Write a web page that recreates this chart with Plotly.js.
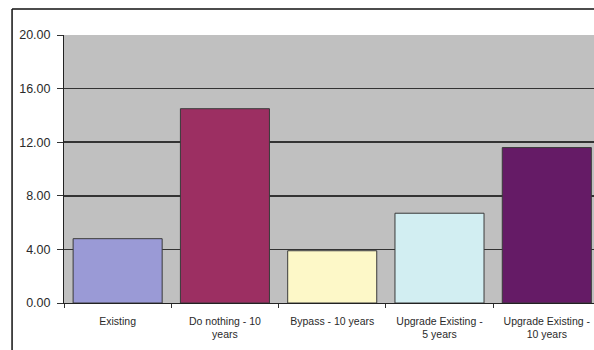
<!DOCTYPE html>
<html>
<head>
<meta charset="utf-8">
<script src="https://cdn.plot.ly/plotly-3.0.1.min.js"></script>
<style>
html,body{margin:0;padding:0;background:#fff;}
#chart{width:594px;height:350px;}
</style>
</head>
<body>
<div id="chart"></div>
<script>
const categories = ["Existing", "Do nothing - 10<br>years", "Bypass - 10 years", "Upgrade Existing -<br>5 years", "Upgrade Existing -<br>10 years"];
const values = [4.8, 14.5, 3.9, 6.7, 11.6];
const barColors = ["#9a9ad6", "#9c2f62", "#fdf8c8", "#d2eef2", "#651b66"];
const yTicks = [0, 4, 8, 12, 16, 20];

const trace = {
  type: "bar",
  x: categories,
  y: values,
  marker: {color: barColors, line: {color: "#3a3a3a", width: 1}},
  hoverinfo: "none"
};

const layout = {
  width: 594,
  height: 350,
  margin: {l: 64, r: 0, t: 35, b: 47, pad: 0},
  paper_bgcolor: "#ffffff",
  plot_bgcolor: "#c0c0c0",
  bargap: 0.17,
  showlegend: false,
  font: {family: "Arial, Liberation Sans, sans-serif", color: "#222"},
  xaxis: {
    type: "category",
    range: [-0.5, 4.44],
    tickson: "boundaries",
    ticks: "outside",
    ticklen: 4,
    tickcolor: "#333",
    ticklabelstandoff: 8,
    showline: true,
    linecolor: "#222",
    linewidth: 1,
    showgrid: false,
    tickfont: {size: 10.5, color: "#2a2a2a"},
    tickangle: 0,
    fixedrange: true
  },
  yaxis: {
    range: [0, 20],
    tickvals: yTicks,
    tickformat: ".2f",
    ticks: "outside",
    ticklen: 6,
    tickcolor: "#333",
    ticklabelstandoff: 4,
    showline: true,
    linecolor: "#222",
    linewidth: 1,
    showgrid: true,
    gridcolor: "#333",
    gridwidth: 1.5,
    zeroline: false,
    tickfont: {size: 12.5, color: "#2a2a2a"},
    fixedrange: true
  },
  shapes: [
    {type: "line", xref: "paper", yref: "paper", x0: -0.098, x1: -0.098, y0: -0.3, y1: 1.097, line: {color: "#111", width: 1.5}},
    {type: "line", xref: "paper", yref: "paper", x0: -0.098, x1: 1.05, y0: 1.097, y1: 1.097, line: {color: "#111", width: 1.5}}
  ]
};

Plotly.newPlot("chart", [trace], layout, {staticPlot: true, displayModeBar: false});
</script>
</body>
</html>
